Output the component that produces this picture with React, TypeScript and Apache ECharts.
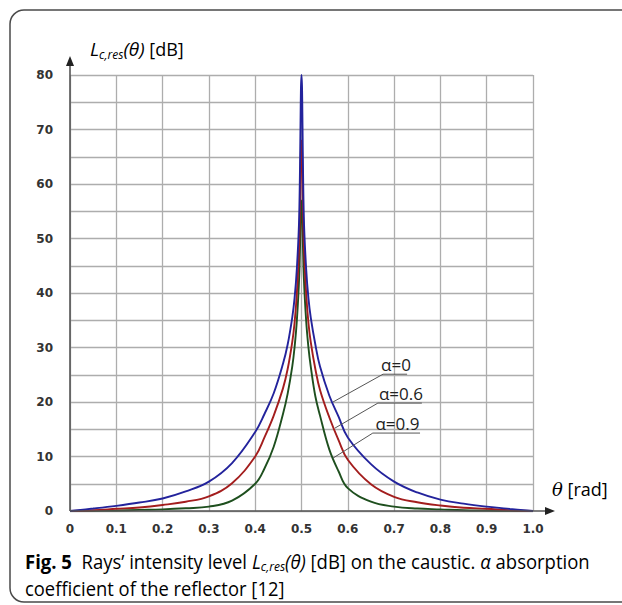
import React, { useEffect, useRef } from "react";
import * as echarts from "echarts";

// theta [rad]
const thetaRad = [
  0, 0.05, 0.1, 0.15, 0.2, 0.25, 0.3, 0.35, 0.4, 0.42, 0.44, 0.46, 0.47, 0.48, 0.485, 0.49, 0.495, 0.5,
  0.505, 0.51, 0.515, 0.52, 0.53, 0.54, 0.56, 0.58, 0.6, 0.65, 0.7, 0.75, 0.8, 0.85, 0.9, 0.95, 1.0,
];
// L_c,res(theta) [dB]
const levelAlpha0 = [
  0, 0.45, 0.95, 1.55, 2.3, 3.6, 5.4, 8.8, 14.5, 17.8, 21.6, 27, 30.5, 35.5, 39, 44.5, 54, 80,
  54, 44.5, 39, 35.5, 30.5, 26.5, 21.2, 17.3, 13.5, 8.6, 5.4, 3.4, 2.1, 1.35, 0.8, 0.38, 0,
];
const levelAlpha06 = [
  0, 0.15, 0.4, 0.65, 1.1, 1.7, 2.7, 5.1, 10, 13.5, 17.5, 22.5, 26, 31, 34.5, 40, 49, 68,
  49, 40, 34.5, 31, 26, 22.2, 17.2, 13, 9.4, 4.9, 2.6, 1.6, 1.0, 0.6, 0.4, 0.15, 0,
];
const levelAlpha09 = [
  0, 0.03, 0.1, 0.2, 0.3, 0.5, 0.8, 1.9, 5, 7.8, 11.8, 17.8, 21.5, 26.5, 30, 35, 43, 57,
  43, 35, 30, 26.5, 21, 17.5, 11.3, 7.3, 4.2, 1.7, 0.8, 0.45, 0.3, 0.15, 0.08, 0.02, 0,
];
const seriesNames = ["α=0", "α=0.6", "α=0.9"];
const seriesLevels = [levelAlpha0, levelAlpha06, levelAlpha09];
const seriesColors = ["#23239c", "#a31d1d", "#1e4f1e"];

// label anchor points (data coords): curve point, underline start, underline end
const labelCurvePts = [[0.568, 20], [0.572, 15.2], [0.568, 9.7]];
const labelLineStart = [[0.676, 25.1], [0.665, 19.8], [0.654, 14.3]];
const labelLineEnd = [[0.728, 25.1], [0.76, 19.8], [0.756, 14.3]];

const X_MIN = 0, X_MAX = 1, X_STEP = 0.1;
const Y_MIN = 0, Y_MAX = 80, Y_STEP = 5;

export default function App() {
  const ref = useRef<HTMLDivElement>(null);
  useEffect(() => {
    if (!ref.current) return;
    const chart = echarts.init(ref.current, null, { renderer: "svg" });
    const axisFont = { fontFamily: "DejaVu Sans", fontWeight: "bold" as const, fontSize: 12, color: "#333" };
    const gridLine = { show: true, lineStyle: { color: "#adadad", width: 1.3 } };
    chart.setOption({
      animation: false,
      backgroundColor: "#fff",
      grid: { left: 70, right: 89, top: 75, bottom: 94 },
      xAxis: {
        type: "value", min: X_MIN, max: X_MAX, interval: X_STEP,
        axisLine: { show: false }, axisTick: { show: false },
        splitLine: gridLine,
        axisLabel: { ...axisFont, margin: 12, formatter: (v: number) => (v === 0 ? "0" : v.toFixed(1)) },
      },
      yAxis: {
        type: "value", min: Y_MIN, max: Y_MAX, interval: Y_STEP,
        axisLine: { show: false }, axisTick: { show: false },
        splitLine: gridLine,
        axisLabel: { ...axisFont, margin: 17, formatter: (v: number) => (v % 10 === 0 ? String(v) : "") },
      },
      series: seriesNames.map((name, k) => ({
        name, type: "line", showSymbol: false, smooth: 0.4,
        lineStyle: { color: seriesColors[k], width: 1.9 },
        z: 10 - k,
        data: thetaRad.map((t, i) => [t, seriesLevels[k][i]]),
      })),
    });

    const px = (p: number[]) => chart.convertToPixel({ gridIndex: 0 }, p) as number[];
    const o = px([X_MIN, Y_MIN]);
    const top = px([X_MIN, Y_MAX]);
    const right = px([X_MAX, Y_MIN]);
    const axisColor = "#555";
    const yTip = top[1] - 19;
    const xTip = right[0] + 22;
    const graphic: any[] = [
      { type: "rect", shape: { x: 10, y: 10, width: 660, height: 592, r: 14 }, style: { fill: "none", stroke: "#4a4a4a", lineWidth: 1.5 }, z: 100 },
      { type: "line", shape: { x1: o[0], y1: o[1], x2: o[0], y2: yTip + 6 }, style: { stroke: axisColor, lineWidth: 1.6 }, z: 50 },
      { type: "polygon", shape: { points: [[o[0], yTip], [o[0] - 4, yTip + 10], [o[0] + 4, yTip + 10]] }, style: { fill: "#222" }, z: 50 },
      { type: "line", shape: { x1: o[0], y1: o[1], x2: xTip - 6, y2: o[1] }, style: { stroke: axisColor, lineWidth: 1.6 }, z: 50 },
      { type: "polygon", shape: { points: [[xTip, o[1]], [xTip - 10, o[1] - 4], [xTip - 10, o[1] + 4]] }, style: { fill: "#222" }, z: 50 },
      {
        type: "text", x: 90, y: 49, z: 60,
        style: {
          text: "{i|L}{s|c,res}{i|(θ)}{n| [dB]}", x: 0, y: 0, verticalAlign: "middle", align: "left",
          rich: {
            i: { fontFamily: "Open Sans", fontStyle: "italic", fontSize: 19, color: "#222", lineHeight: 26, verticalAlign: "middle" },
            s: { fontFamily: "Open Sans", fontStyle: "italic", fontSize: 12, color: "#222", lineHeight: 12, padding: [10, 0, 0, 0], verticalAlign: "middle" },
            n: { fontFamily: "Open Sans", fontSize: 18, color: "#222", lineHeight: 26, verticalAlign: "middle" },
          },
        },
      },
      {
        type: "text", x: 552, y: 489, z: 60,
        style: {
          text: "{i|θ}{n| [rad]}", x: 0, y: 0, verticalAlign: "middle", align: "left",
          rich: {
            i: { fontFamily: "DejaVu Serif", fontStyle: "italic", fontSize: 18, color: "#222", verticalAlign: "middle" },
            n: { fontFamily: "Open Sans", fontSize: 18, color: "#222", verticalAlign: "middle" },
          },
        },
      },
      {
        type: "text", x: 25, y: 561, z: 60, scaleX: 0.925,
        style: {
          text: "{b|Fig. 5}{n|  Rays’ intensity level }{i|L}{s|c,res}{i|(θ)}{n| [dB] on the caustic. }{i|α}{n| absorption}",
          x: 0, y: 0, verticalAlign: "middle", align: "left",
          rich: {
            b: { fontFamily: "Open Sans", fontWeight: "bold", fontSize: 20, color: "#1a1a1a", lineHeight: 28, verticalAlign: "middle" },
            n: { fontFamily: "Open Sans", fontSize: 20, color: "#2e2e2e", lineHeight: 28, verticalAlign: "middle" },
            i: { fontFamily: "Open Sans", fontStyle: "italic", fontSize: 20, color: "#2e2e2e", lineHeight: 28, verticalAlign: "middle" },
            s: { fontFamily: "Open Sans", fontStyle: "italic", fontSize: 13, color: "#2e2e2e", lineHeight: 13, padding: [11, 0, 0, 0], verticalAlign: "middle" },
          },
        },
      },
      {
        type: "text", x: 25, y: 588, z: 60, scaleX: 0.92,
        style: {
          text: "{n|coefficient of the reflector [}{l|12}{n|]}", x: 0, y: 0, verticalAlign: "middle", align: "left",
          rich: {
            n: { fontFamily: "Open Sans", fontSize: 20, color: "#2e2e2e", verticalAlign: "middle" },
            l: { fontFamily: "Open Sans", fontSize: 20, color: "#2a55d6", verticalAlign: "middle" },
          },
        },
      },
    ];
    seriesNames.forEach((name, k) => {
      const c = px(labelCurvePts[k]);
      const s = px(labelLineStart[k]);
      const e = px(labelLineEnd[k]);
      graphic.push(
        { type: "line", shape: { x1: c[0], y1: c[1], x2: s[0], y2: s[1] }, style: { stroke: "#555", lineWidth: 1 }, z: 55 },
        { type: "line", shape: { x1: s[0], y1: s[1], x2: e[0], y2: e[1] }, style: { stroke: "#555", lineWidth: 1 }, z: 55 },
        {
          type: "text", x: (s[0] + e[0]) / 2 + 1, y: s[1] - 1, z: 56,
          style: { text: name, x: 0, y: 0, align: "center", verticalAlign: "bottom", fontFamily: "Open Sans", fontSize: 17, fill: "#222" },
        }
      );
    });
    chart.setOption({ graphic });
    return () => chart.dispose();
  }, []);
  return <div ref={ref} style={{ position: "absolute", left: 0, top: 0, width: 622, height: 605 }} />;
}
